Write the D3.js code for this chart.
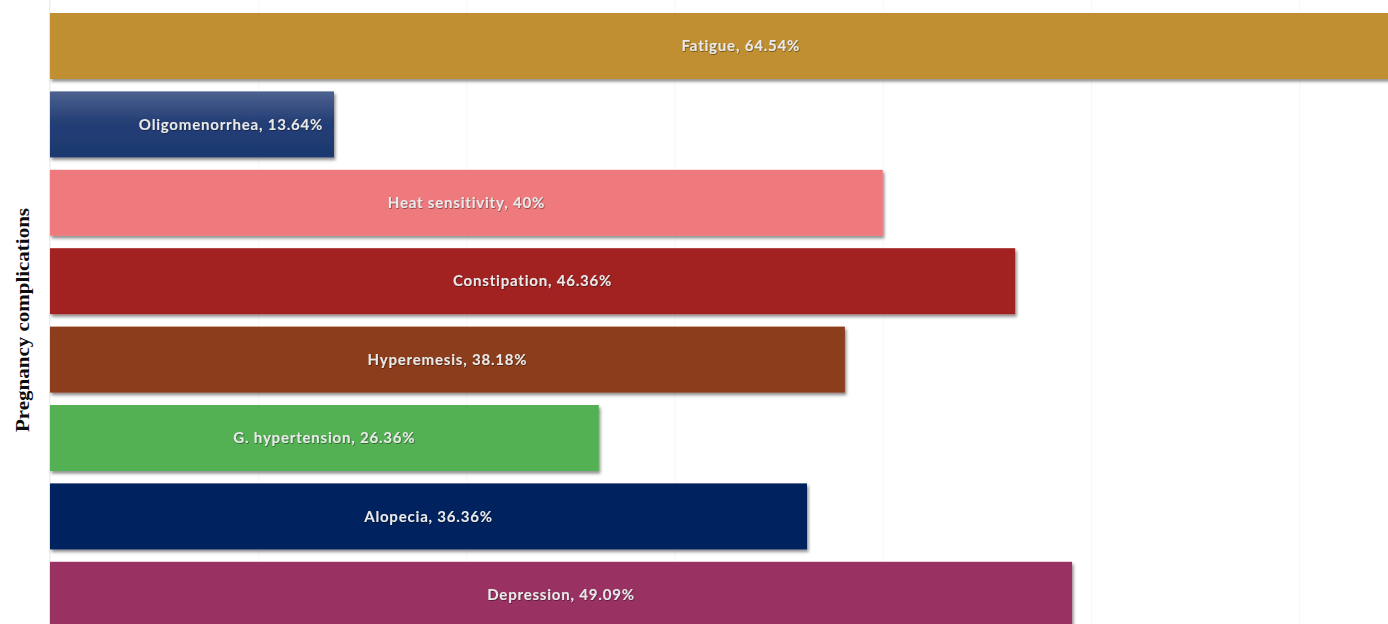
<!DOCTYPE html>
<html>
<head>
<meta charset="utf-8">
<script src="https://cdn.jsdelivr.net/npm/d3@7"></script>
<style>
  html, body { margin: 0; padding: 0; background: #fff; }
  svg { display: block; }
</style>
</head>
<body>
<div id="chart"></div>
<script>
// data
const categories = ['Fatigue', 'Oligomenorrhea', 'Heat sensitivity', 'Constipation',
  'Hyperemesis', 'G. hypertension', 'Alopecia', 'Depression'];
const values = [64.54, 13.64, 40, 46.36, 38.18, 26.36, 36.36, 49.09];
const valueLabels = ['64.54%', '13.64%', '40%', '46.36%', '38.18%', '26.36%', '36.36%', '49.09%'];
const gridTicks = [0, 10, 20, 30, 40, 50, 60, 70];

const colors = ['#bf8f33', '#1f3a70', '#ef7a7e', '#a22022', '#8b3d1e', '#52b052', '#00205f', '#993363'];
// labels nudged the way they sit in the original
const labelShift = { 'Fatigue': 19, 'Oligomenorrhea': 39 };

const width = 1388, height = 624;
const left = 50;

const svg = d3.select('#chart').append('svg')
  .attr('width', width)
  .attr('height', height);

const defs = svg.append('defs');

const shadow = defs.append('filter').attr('id', 'shadow')
  .attr('x', '-5%').attr('y', '-20%').attr('width', '110%').attr('height', '150%');
shadow.append('feDropShadow')
  .attr('dx', 1.5).attr('dy', 2.5).attr('stdDeviation', 1.8)
  .attr('flood-color', '#000').attr('flood-opacity', 0.45);

const grad = defs.append('linearGradient').attr('id', 'oligoGrad')
  .attr('x1', 0).attr('y1', 0).attr('x2', 0).attr('y2', 1);
grad.append('stop').attr('offset', '0%').attr('stop-color', '#4d6290');
grad.append('stop').attr('offset', '45%').attr('stop-color', '#253f76');
grad.append('stop').attr('offset', '100%').attr('stop-color', '#1c386f');

const textShadow = defs.append('filter').attr('id', 'tshadow')
  .attr('x', '-5%').attr('y', '-30%').attr('width', '110%').attr('height', '160%');
textShadow.append('feDropShadow')
  .attr('dx', 0.6).attr('dy', 0.8).attr('stdDeviation', 0.5)
  .attr('flood-color', '#000').attr('flood-opacity', 0.5);

// scales
const x = d3.scaleLinear().domain([0, 64.54]).range([left, left + 1343.7]);
const step = 78.4;
const y = d3.scaleBand()
  .domain(categories)
  .range([13 - 0.079 * step, 13 - 0.079 * step + categories.length * step])
  .paddingInner(0.158)
  .paddingOuter(0.079);

// faint vertical gridlines
svg.append('g')
  .attr('transform', 'translate(0,' + height + ')')
  .call(d3.axisBottom(x).tickValues(gridTicks).tickSize(-height).tickFormat(''))
  .call(g => g.select('.domain').remove())
  .call(g => g.selectAll('line').attr('stroke', '#f7f7f7'));

// left axis line
svg.append('line')
  .attr('x1', left - 0.5).attr('x2', left - 0.5)
  .attr('y1', 0).attr('y2', height)
  .attr('stroke', '#ededed');

// bars
svg.selectAll('rect.bar')
  .data(categories)
  .enter()
  .append('rect')
  .attr('class', 'bar')
  .attr('x', x(0))
  .attr('y', d => y(d))
  .attr('width', (d, i) => x(values[i]) - x(0))
  .attr('height', y.bandwidth())
  .attr('fill', (d, i) => d === 'Oligomenorrhea' ? 'url(#oligoGrad)' : colors[i])
  .attr('filter', 'url(#shadow)');

// bar labels
svg.selectAll('text.lbl')
  .data(categories)
  .enter()
  .append('text')
  .attr('class', 'lbl')
  .attr('x', (d, i) => (x(0) + x(values[i])) / 2 + (labelShift[d] || 0))
  .attr('y', d => y(d) + y.bandwidth() / 2)
  .attr('dy', '0.35em')
  .attr('text-anchor', 'middle')
  .attr('font-family', 'Lato, "Open Sans", sans-serif')
  .attr('font-size', '15px')
  .attr('font-weight', 700)
  .attr('letter-spacing', '0.8px')
  .attr('fill', '#e9e9e9')
  .attr('filter', 'url(#tshadow)')
  .text((d, i) => d + ', ' + valueLabels[i]);

// y-axis title
svg.append('text')
  .attr('transform', 'translate(29,320) rotate(-90)')
  .attr('text-anchor', 'middle')
  .attr('font-family', '"Liberation Serif", "Times New Roman", serif')
  .attr('font-size', '19px')
  .attr('font-weight', 'bold')
  .attr('fill', '#0d0d0d')
  .attr('textLength', 224)
  .attr('lengthAdjust', 'spacingAndGlyphs')
  .text('Pregnancy complications');
</script>
</body>
</html>
